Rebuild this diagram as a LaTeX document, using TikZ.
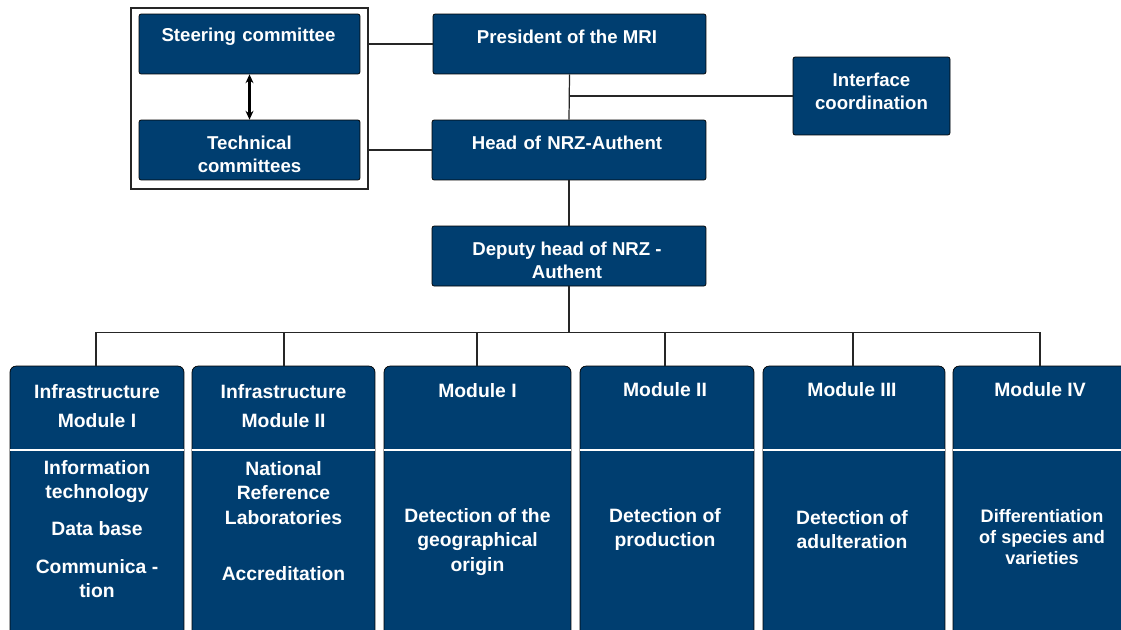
\documentclass[tikz,border=0pt]{standalone}
\usepackage{fontspec}
\setmainfont{Liberation Sans}
\usepackage{tikz}
\usetikzlibrary{arrows.meta}
\definecolor{navy}{RGB}{0,62,112}

\begin{document}
\begin{tikzpicture}[
  x=0.02cm, y=-0.02cm,
  box/.style={
    draw=black, fill=navy, rounded corners=1.2pt,
    inner sep=0pt, minimum height=1.2cm
  },
  modbox/.style={
    draw=black, fill=navy, rounded corners=3.5pt,
    inner sep=0pt, minimum height=5.88cm
  },
  txt/.style={
    text=white, align=center, inner sep=0pt,
    font=\bfseries\fontsize{10.6}{13}\selectfont
  },
  modtxt/.style={
    txt, font=\bfseries\fontsize{11}{13.9}\selectfont
  },
  link/.style={line width=0.7pt, draw=black!85}
]
  \useasboundingbox (0,0) rectangle (1121,629);
  \clip (0,0) rectangle (1121,629);

  % committees
  \node[draw=black!85, line width=0.7pt, minimum width=4.74cm,
    minimum height=3.62cm, inner sep=0pt] (frame) at (249.5,98.5){};
  \node[box, minimum width=4.42cm] (steer) at (249.5,44){};
  \node[box, minimum width=4.42cm] (tech) at (249.5,150){};
  \node[txt] at (248.5,37){Steering\,\,committee};
  \node[txt] at (249.5,154.5){Technical\\committees};
  \draw[line width=1.3pt, {Stealth[length=5pt,width=4.5pt]}-{Stealth[length=5pt,width=4.5pt]}]
    (steer.south) -- (tech.north);

  % management
  \node[box, minimum width=5.46cm] (pres) at (569.5,44){};
  \node[box, minimum width=5.48cm] (head) at (569,150){};
  \node[box, minimum width=3.14cm, minimum height=1.56cm] (iface) at (871.5,96){};
  \node[box, minimum width=5.48cm] (dep) at (569,256){};
  \node[txt] at (567,37){President of the MRI};
  \node[txt] at (567,143){Head\,\,of\,\,NRZ-Authent};
  \node[txt] at (871.5,91){Interface\\coordination};
  \node[txt] at (567,260.5){Deputy head of NRZ -\\Authent};

  \draw[link] (frame.east |- pres.west) -- (pres.west);
  \draw[link] (frame.east |- head.west) -- (head.west);
  \draw[link] (pres.south) -- (head.north);
  \draw[link] (pres.south |- iface.west) -- (iface.west);
  \draw[link] (head.south) -- (dep.north);

  % modules
  \foreach \n/\x/\w in {m1/97/3.48,m2/283.5/3.66,m3/477.5/3.74,
                        m4/667/3.48,m5/854/3.64,m6/1046.5/3.74} {
    \node[modbox, minimum width=\w cm] (\n) at (\x,513){};
    \draw[white, line width=0.8pt] (\n.west |- 0,450) -- (\n.east |- 0,450);
  }
  \draw[link] (dep.south) -- ++(0,46) coordinate (bus);
  \foreach \n/\dx in {m1/-1,m2/0.5,m3/-0.5,m4/-2,m5/-1,m6/-6.5} {
    \draw[link] ([xshift=\dx*0.02cm]bus -| \n.north)
      -- ([xshift=\dx*0.02cm]\n.north);
  }
  \draw[link] ([xshift=-0.02cm]bus -| m1.north)
    -- ([xshift=-0.13cm]bus -| m6.north);

  \node[modtxt, text depth=0pt] at (97,406){Infrastructure\\[3pt]Module I};
  \node[modtxt] at (97,481.5){Information\\technology};
  \node[modtxt] at (97,529){Data base};
  \node[modtxt] at (97,578.5){Communica -\\tion};

  \node[modtxt, text depth=0pt] at (283.5,406){Infrastructure\\[3pt]Module II};
  \node[modtxt] at (283.5,493){National\\Reference\\Laboratories};
  \node[modtxt] at (283.5,574){Accreditation};

  \node[modtxt] at (477.5,391){Module I};
  \node[modtxt] at (477.5,542){Detection of the\\geographical\\origin};

  \node[modtxt] at (665,390){Module II};
  \node[modtxt] at (665,529.5){Detection of\\production};

  \node[modtxt] at (852,390){Module III};
  \node[modtxt] at (852,529.5){Detection of\\adulteration};

  \node[modtxt] at (1040,390){Module IV};
  \node[txt, font=\bfseries\fontsize{10.3}{12.2}\selectfont] at (1042,537)
    {Differentiation\\of species and\\varieties};
\end{tikzpicture}
\end{document}
